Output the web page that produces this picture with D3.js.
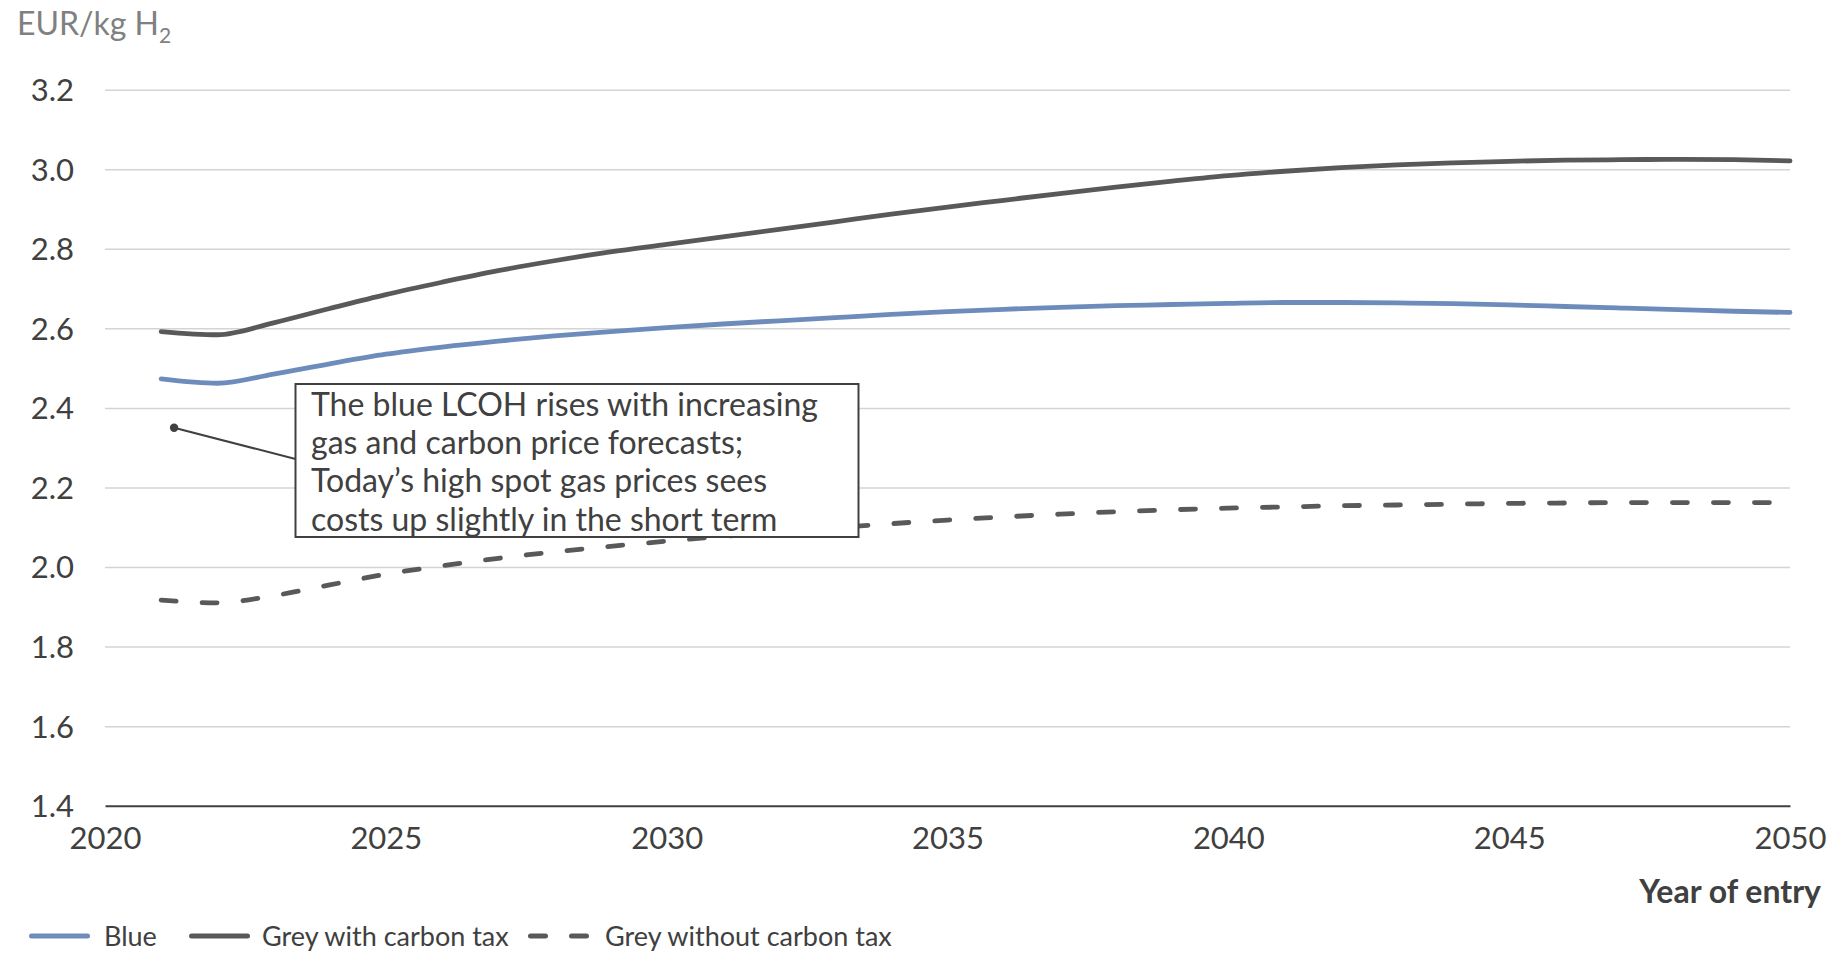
<!DOCTYPE html>
<html>
<head>
<meta charset="utf-8">
<script src="https://cdn.jsdelivr.net/npm/d3@7"></script>
<style>
  html, body { margin: 0; padding: 0; background: #ffffff; }
  svg { display: block; font-family: Lato, "Open Sans", sans-serif; }
</style>
</head>
<body>
<svg id="chart" width="1831" height="955"></svg>
<script>
// Levelised cost of hydrogen by year of entry (EUR/kg H2)
const years = d3.range(2021, 2051);

const blue = [
  2.473, 2.462, 2.485, 2.511, 2.535, 2.553, 2.568, 2.581, 2.592, 2.602,
  2.611, 2.619, 2.627, 2.635, 2.642, 2.648, 2.653, 2.657, 2.660, 2.663,
  2.665, 2.665, 2.664, 2.662, 2.659, 2.655, 2.651, 2.647, 2.643, 2.640
];

const greyWithTax = [
  2.592, 2.584, 2.614, 2.650, 2.685, 2.716, 2.745, 2.770, 2.792, 2.811,
  2.830, 2.849, 2.868, 2.887, 2.905, 2.922, 2.939, 2.955, 2.970, 2.984,
  2.995, 3.004, 3.011, 3.016, 3.020, 3.023, 3.024, 3.025, 3.024, 3.021
];

const greyWithoutTax = [
  1.917, 1.910, 1.928, 1.955, 1.982, 2.003, 2.022, 2.038, 2.052, 2.065,
  2.077, 2.088, 2.099, 2.109, 2.118, 2.126, 2.133, 2.139, 2.144, 2.148,
  2.151, 2.154, 2.156, 2.158, 2.160, 2.161, 2.162, 2.162, 2.162, 2.162
];

const seriesNames = ["Blue", "Grey with carbon tax", "Grey without carbon tax"];
const yTicks = [1.4, 1.6, 1.8, 2.0, 2.2, 2.4, 2.6, 2.8, 3.0, 3.2];
const xTicks = [2020, 2025, 2030, 2035, 2040, 2045, 2050];
const calloutLines = [
  "The blue LCOH rises with increasing",
  "gas and carbon price forecasts;",
  "Today\u2019s high spot gas prices sees",
  "costs up slightly in the short term"
];

const textColor = "#404040";
const series = [
  { name: seriesNames[0], values: blue,           color: "#6d8cbc", dash: null },
  { name: seriesNames[1], values: greyWithTax,    color: "#595959", dash: null },
  { name: seriesNames[2], values: greyWithoutTax, color: "#595959", dash: "15 26" }
];

const svg = d3.select("#chart");
const plot = { left: 105, right: 1790, top: 89.7, bottom: 805.7 };

const x = d3.scaleLinear().domain([2020, 2050]).range([plot.left, plot.right]);
const y = d3.scaleLinear().domain([1.4, 3.2]).range([plot.bottom, plot.top]);

// Horizontal gridlines + y tick labels
const yAxis = svg.append("g")
  .attr("transform", `translate(${plot.left},0)`)
  .call(d3.axisLeft(y).tickValues(yTicks).tickFormat(d3.format(".1f"))
        .tickSize(-(plot.right - plot.left)).tickPadding(31));
yAxis.select(".domain").remove();
yAxis.selectAll(".tick line")
  .attr("stroke", "#d4d4d4").attr("stroke-width", 1.5)
  .filter(d => d === 1.4).remove();
yAxis.selectAll(".tick text")
  .attr("fill", textColor).attr("font-size", 31)
  .attr("font-family", "Lato").attr("dy", "0.35em");

// X axis
const xAxis = svg.append("g")
  .attr("transform", `translate(0,${plot.bottom})`)
  .call(d3.axisBottom(x).tickValues(xTicks).tickFormat(d3.format("d")).tickSize(0));
xAxis.select(".domain").attr("stroke", "#404040").attr("stroke-width", 2);
xAxis.selectAll(".tick text")
  .attr("fill", textColor).attr("font-size", 31).attr("font-family", "Lato")
  .attr("y", 32).attr("dy", "0.35em");

// Axis titles
svg.append("text")
  .attr("x", 1821).attr("y", 903)
  .attr("text-anchor", "end")
  .attr("font-size", 32).attr("font-weight", 700)
  .attr("fill", textColor)
  .text("Year of entry");

const unit = svg.append("text")
  .attr("x", 17).attr("y", 35)
  .attr("font-size", 32).attr("fill", "#808080");
unit.append("tspan").text("EUR/kg H");
unit.append("tspan").attr("font-size", 21).attr("dy", 8).text("2");

// Series lines
const line = d3.line()
  .x((d, i) => x(years[i]))
  .y(d => y(d))
  .curve(d3.curveMonotoneX);

series.forEach(s => {
  svg.append("path")
    .datum(s.values)
    .attr("d", line)
    .attr("fill", "none")
    .attr("stroke", s.color)
    .attr("stroke-width", 4.8)
    .attr("stroke-linecap", "round")
    .attr("stroke-linejoin", "round")
    .attr("stroke-dasharray", s.dash);
});

// Callout box with leader line
const anchor = { year: 2021.23, value: 2.35 };
const box = { x: 295.5, y: 384, w: 563, h: 153 };
svg.append("line")
  .attr("x1", x(anchor.year)).attr("y1", y(anchor.value))
  .attr("x2", box.x).attr("y2", 459)
  .attr("stroke", "#404040").attr("stroke-width", 2);
svg.append("circle")
  .attr("cx", x(anchor.year)).attr("cy", y(anchor.value))
  .attr("r", 4.2).attr("fill", "#404040");
svg.append("rect")
  .attr("x", box.x).attr("y", box.y).attr("width", box.w).attr("height", box.h)
  .attr("fill", "#ffffff").attr("stroke", "#404040").attr("stroke-width", 2);
svg.append("g").selectAll("text")
  .data(calloutLines)
  .join("text")
  .attr("x", 311).attr("y", (d, i) => 416 + i * 38.2)
  .attr("font-size", 32).attr("fill", textColor)
  .text(d => d);

// Legend
const legendItems = [
  { s: series[0], x0: 31.5, tx: 104 },
  { s: series[1], x0: 191.5, tx: 262 },
  { s: series[2], x0: 530.5, tx: 605 }
];
const legendY = 937;
const lg = svg.append("g");
legendItems.forEach(it => {
  lg.append("line")
    .attr("x1", it.x0).attr("x2", it.x0 + 56)
    .attr("y1", legendY - 1).attr("y2", legendY - 1)
    .attr("stroke", it.s.color).attr("stroke-width", 5)
    .attr("stroke-linecap", "round")
    .attr("stroke-dasharray", it.s.dash);
  lg.append("text")
    .attr("x", it.tx).attr("y", legendY).attr("dy", "0.35em")
    .attr("font-size", 27).attr("fill", textColor)
    .text(it.s.name);
});
</script>
</body>
</html>
